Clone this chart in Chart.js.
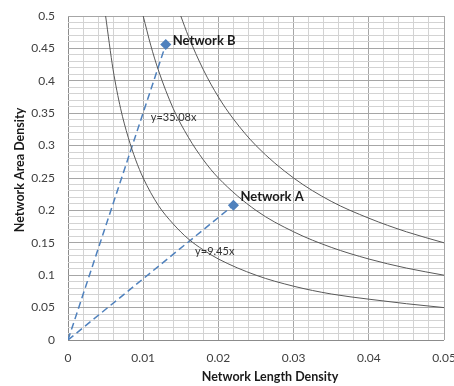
<!DOCTYPE html>
<html lang="en">
<head>
<meta charset="UTF-8">
<title>Network density</title>
<script src="https://cdn.jsdelivr.net/npm/chart.js"></script>
<style>
  html, body { margin: 0; padding: 0; background: #fff; }
  #wrap { width: 454px; height: 386px; position: relative; }
</style>
</head>
<body>
<div id="wrap"><canvas id="chart"></canvas></div>
<script>
// values
const xTitle = 'Network Length Density';
const yTitle = 'Network Area Density';

// iso-density curves
const curveLowX  = [0.005, 0.006, 0.007, 0.008, 0.009, 0.01, 0.012, 0.014, 0.016, 0.018, 0.02, 0.025, 0.03, 0.035, 0.04, 0.045, 0.05];
const curveLowY  = [0.5, 0.417, 0.357, 0.313, 0.278, 0.25, 0.208, 0.179, 0.156, 0.139, 0.125, 0.1, 0.083, 0.071, 0.063, 0.056, 0.05];
const curveMidX  = [0.01, 0.011, 0.012, 0.014, 0.016, 0.018, 0.02, 0.025, 0.03, 0.035, 0.04, 0.045, 0.05];
const curveMidY  = [0.5, 0.455, 0.417, 0.357, 0.313, 0.278, 0.25, 0.2, 0.167, 0.143, 0.125, 0.111, 0.1];
const curveHighX = [0.015, 0.016, 0.018, 0.02, 0.022, 0.025, 0.03, 0.035, 0.04, 0.045, 0.05];
const curveHighY = [0.5, 0.469, 0.417, 0.375, 0.341, 0.3, 0.25, 0.214, 0.188, 0.167, 0.15];

// the two networks
const networkNames = ['Network B', 'Network A'];
const networkX = [0.013, 0.022];
const networkY = [0.456, 0.208];
const equations = ['y=35.08x', 'y=9.45x'];
const equationAtX = [0.011, 0.0169];
const equationAtY = [0.343, 0.136];

const xMajor = 0.01, yMajor = 0.05;

const toPoints = (xs, ys) => xs.map((x, i) => ({ x: x, y: ys[i] }));
const isMajor = (v, step) => Math.abs(v / step - Math.round(v / step)) < 1e-6;
const fmt = v => String(+v.toFixed(3));

const FONT = 'Lato, "Open Sans", sans-serif';
const blue = '#4f81bd';

const curveStyle = {
    showLine: true, pointRadius: 0, borderColor: '#595959', borderWidth: 1,
    cubicInterpolationMode: 'monotone', fill: false
};

const datasets = [
    Object.assign({ data: toPoints(curveLowX, curveLowY) }, curveStyle),
    Object.assign({ data: toPoints(curveMidX, curveMidY) }, curveStyle),
    Object.assign({ data: toPoints(curveHighX, curveHighY) }, curveStyle),
];
networkNames.forEach((n, i) => {
    datasets.push({
        label: n,
        data: [{ x: 0, y: 0 }, { x: networkX[i], y: networkY[i] }],
        showLine: true,
        borderColor: blue,
        borderWidth: 1.5,
        borderDash: [7, 4],
        pointStyle: 'rectRot',
        pointRadius: [0, 4.5],
        pointBackgroundColor: blue,
        pointBorderColor: blue,
    });
});

const labelPlugin = {
    id: 'labels',
    afterDatasetsDraw(chart) {
        const { ctx, scales } = chart;
        const xs = scales.x, ys = scales.y;
        ctx.save();
        ctx.fillStyle = '#1a1a1a';
        ctx.textBaseline = 'middle';
        ctx.textAlign = 'left';
        ctx.font = 'bold 13px ' + FONT;
        const dy = [-4, -8];
        networkNames.forEach((n, i) => {
            ctx.fillText(n, xs.getPixelForValue(networkX[i]) + 7, ys.getPixelForValue(networkY[i]) + dy[i]);
        });
        ctx.font = '11px ' + FONT;
        ctx.fillStyle = '#333';
        equations.forEach((e, i) => {
            ctx.fillText(e, xs.getPixelForValue(equationAtX[i]), ys.getPixelForValue(equationAtY[i]));
        });
        // axis titles
        ctx.fillStyle = '#1a1a1a';
        ctx.font = 'bold 12.5px ' + FONT;
        ctx.textAlign = 'center';
        ctx.fillText(xTitle, 270, 377);
        ctx.translate(20, 170);
        ctx.rotate(-Math.PI / 2);
        ctx.fillText(yTitle, 0, 0);
        ctx.restore();
    }
};

new Chart(document.getElementById('chart'), {
    type: 'scatter',
    data: { datasets: datasets },
    options: {
        responsive: true,
        maintainAspectRatio: false,
        animation: false,
        layout: { padding: { top: 16, right: 10, left: 0, bottom: 0 } },
        plugins: { legend: { display: false }, tooltip: { enabled: false } },
        scales: {
            x: {
                type: 'linear', min: 0, max: 0.05,
                border: { display: false },
                grid: {
                    drawTicks: false,
                    color: c => isMajor(c.tick.value, xMajor) ? (c.tick.value === 0 ? '#8c8c8c' : '#a6a6a6') : '#d3d3d3',
                    lineWidth: 1
                },
                ticks: {
                    stepSize: 0.002, autoSkip: false, maxRotation: 0, padding: 11,
                    color: '#404040', font: { family: FONT, size: 12 },
                    callback: v => isMajor(v, xMajor) ? fmt(v) : ''
                },
                afterFit(s) { s.height = 46; s.paddingLeft = 0; s.paddingRight = 0; }
            },
            y: {
                type: 'linear', min: 0, max: 0.5,
                border: { display: false },
                grid: {
                    drawTicks: false,
                    color: c => isMajor(c.tick.value, yMajor) ? (c.tick.value === 0 ? '#8c8c8c' : '#a6a6a6') : '#d3d3d3',
                    lineWidth: 1
                },
                ticks: {
                    stepSize: 0.01, autoSkip: false, padding: 13,
                    color: '#404040', font: { family: FONT, size: 12 },
                    callback: v => isMajor(v, yMajor) ? fmt(v) : ''
                },
                afterFit(s) { s.width = 68; s.paddingTop = 0; s.paddingBottom = 0; }
            }
        }
    },
    plugins: [labelPlugin]
});
</script>
</body>
</html>
